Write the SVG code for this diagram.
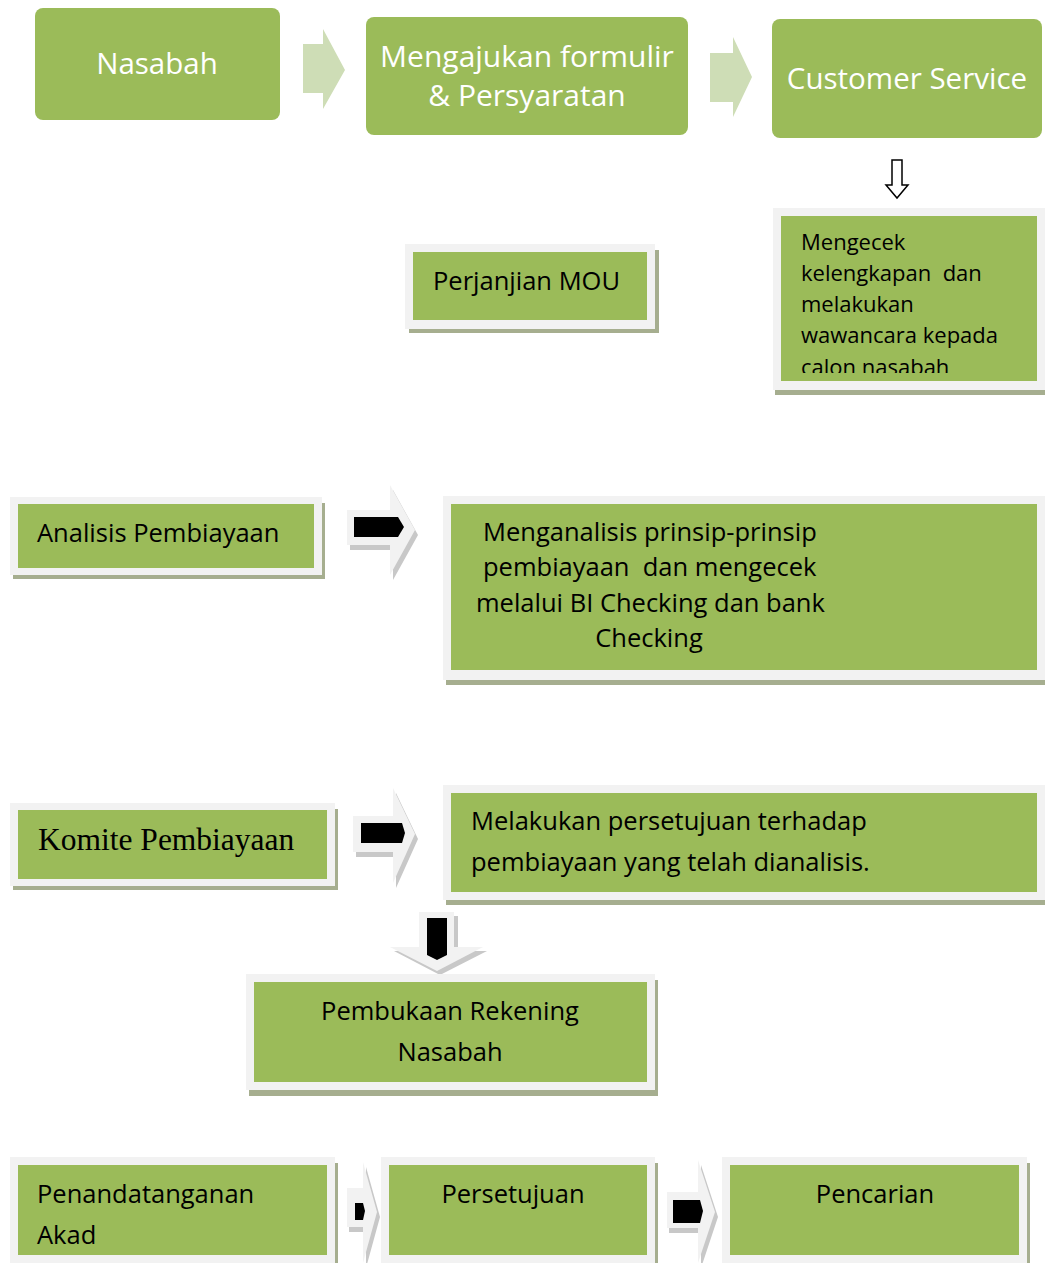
<svg xmlns="http://www.w3.org/2000/svg" width="1045" height="1263" viewBox="0 0 1045 1263">
<style>
.bg{fill:#ffffff}
.rnd{fill:#9BBB59}
.frame{fill:#F2F2F2}
.shadow{fill:#A6AE8F}
.inner{fill:#9BBB59}
.wt{font-family:"Open Sans","Liberation Sans",sans-serif;fill:#ffffff}
.bt{font-family:"Open Sans","Liberation Sans",sans-serif;fill:#000000}
.serif{font-family:"Liberation Serif",serif;fill:#000000}
.lg{fill:#CEDDB6}
.la{fill:#F2F2F2}
.ash{fill:#C8C8C8}
.blk{fill:#000000}
</style>
<defs>
<clipPath id="clipM"><rect x="781" y="216" width="256" height="157"/></clipPath>
</defs>
<rect class="bg" x="0" y="0" width="1045" height="1263"/>

<g id="connectors">
  <polygon class="lg" points="303,44 323,44 323,29 345,70 323,109 323,93 303,93"/>
  <polygon class="lg" points="710,53 733,53 733,37 752,77 733,117 733,102 710,102"/>
  <polygon points="892,160 902,160 902,185 908,185 897,198 886,185 892,185" fill="#ffffff" stroke="#000000" stroke-width="1.5"/>
  <g>
    <polygon class="ash" points="350,515 393,515 393,490 418,535 393,580 393,550 350,550"/>
    <polygon class="la" points="347,510 390,510 390,485 415,530 390,575 390,545 347,545"/>
    <polygon class="blk" points="354,517 398,517 404,527 398,537 354,537"/>
  </g>
  <g>
    <polygon class="ash" points="356,821 396,821 396,793 418,839 396,888 396,857 356,857"/>
    <polygon class="la" points="353,816 393,816 393,788 415,834 393,883 393,852 353,852"/>
    <polygon class="blk" points="361,823 402,823 405,833 402,843 361,843"/>
  </g>
  <g>
    <polygon class="ash" points="423,916 458,916 458,951 487,951 440,975 394,951 423,951"/>
    <polygon class="la" points="419,912 454,912 454,947 483,947 437,971 390,947 419,947"/>
    <polygon class="blk" points="427,918 447,918 447,955 437,960 427,955"/>
  </g>
  <g>
    <polygon class="ash" points="349,1193 366,1193 366,1167 380,1217 366,1268 366,1232 349,1232"/>
    <polygon class="la" points="347,1188 363,1188 363,1162 377,1212 363,1263 363,1227 347,1227"/>
    <polygon class="blk" points="355,1203 363,1203 365,1211 363,1220 355,1220"/>
  </g>
  <g>
    <polygon class="ash" points="669,1197 701,1197 701,1165 718,1217 701,1268 701,1233 669,1233"/>
    <polygon class="la" points="667,1192 698,1192 698,1160 715,1212 698,1263 698,1228 667,1228"/>
    <polygon class="blk" points="673,1200 700,1200 703,1211 700,1223 673,1223"/>
  </g>
</g>

<g id="n-nasabah">
  <rect class="rnd" x="35" y="8" width="245" height="112" rx="8"/>
  <text class="wt" x="157" y="74" font-size="29.5" text-anchor="middle">Nasabah</text>
</g>
<g id="n-mengajukan">
  <rect class="rnd" x="366" y="17" width="322" height="118" rx="8"/>
  <text class="wt" x="527" y="67" font-size="30" text-anchor="middle">Mengajukan formulir</text>
  <text class="wt" x="527" y="106" font-size="30" text-anchor="middle">&amp; Persyaratan</text>
</g>
<g id="n-cs">
  <rect class="rnd" x="772" y="19" width="270" height="119" rx="8"/>
  <text class="wt" x="907" y="89" font-size="29.5" text-anchor="middle">Customer Service</text>
</g>

<g id="n-mengecek">
  <rect class="shadow" x="775" y="212" width="270" height="183"/>
  <rect class="frame" x="773" y="208" width="272" height="182"/>
  <rect class="inner" x="781" y="216" width="256" height="165"/>
  <g clip-path="url(#clipM)">
    <text class="bt" x="801" y="250" font-size="22">Mengecek</text>
    <text class="bt" x="801" y="281" font-size="22" xml:space="preserve">kelengkapan  dan</text>
    <text class="bt" x="801" y="312" font-size="22">melakukan</text>
    <text class="bt" x="801" y="343" font-size="22">wawancara kepada</text>
    <text class="bt" x="801" y="375" font-size="22">calon nasabah</text>
  </g>
</g>

<g id="n-mou">
  <rect class="shadow" x="409" y="250" width="250" height="83"/>
  <rect class="frame" x="405" y="244" width="250" height="85"/>
  <rect class="inner" x="413" y="252" width="234" height="68"/>
  <text class="bt" x="433" y="290" font-size="25.5">Perjanjian MOU</text>
</g>

<g id="n-analisis">
  <rect class="shadow" x="13" y="503" width="312" height="76"/>
  <rect class="frame" x="10" y="497" width="312" height="78"/>
  <rect class="inner" x="18" y="504" width="296" height="64"/>
  <text class="bt" x="37" y="542" font-size="25.5">Analisis Pembiayaan</text>
</g>

<g id="n-menganalisis">
  <rect class="shadow" x="446" y="502" width="599" height="183"/>
  <rect class="frame" x="443" y="496" width="602" height="184"/>
  <rect class="inner" x="451" y="504" width="586" height="166"/>
  <text class="bt" x="483" y="541" font-size="25.5">Menganalisis prinsip-prinsip</text>
  <text class="bt" x="483" y="576" font-size="25.5" xml:space="preserve">pembiayaan  dan mengecek</text>
  <text class="bt" x="476" y="612" font-size="25.5">melalui BI Checking dan bank</text>
  <text class="bt" x="649" y="647" font-size="25.5" text-anchor="middle">Checking</text>
</g>

<g id="n-komite">
  <rect class="shadow" x="13" y="809" width="325" height="81"/>
  <rect class="frame" x="10" y="803" width="325" height="83"/>
  <rect class="inner" x="18" y="810" width="309" height="69"/>
  <text class="serif" x="38" y="850" font-size="31.5">Komite Pembiayaan</text>
</g>

<g id="n-melakukan">
  <rect class="shadow" x="446" y="791" width="599" height="114"/>
  <rect class="frame" x="443" y="785" width="602" height="115"/>
  <rect class="inner" x="451" y="793" width="586" height="99"/>
  <text class="bt" x="471" y="830" font-size="25.5">Melakukan persetujuan terhadap</text>
  <text class="bt" x="471" y="871" font-size="25.5">pembiayaan yang telah dianalisis.</text>
</g>

<g id="n-pembukaan">
  <rect class="shadow" x="249" y="980" width="409" height="116"/>
  <rect class="frame" x="246" y="974" width="409" height="116"/>
  <rect class="inner" x="254" y="982" width="393" height="100"/>
  <text class="bt" x="450" y="1020" font-size="25.5" text-anchor="middle">Pembukaan Rekening</text>
  <text class="bt" x="450" y="1061" font-size="25.5" text-anchor="middle">Nasabah</text>
</g>

<g id="n-penandatanganan">
  <rect class="shadow" x="13" y="1163" width="325" height="110"/>
  <rect class="frame" x="10" y="1157" width="325" height="110"/>
  <rect class="inner" x="18" y="1165" width="309" height="90"/>
  <text class="bt" x="37" y="1203" font-size="25.5">Penandatanganan</text>
  <text class="bt" x="37" y="1244" font-size="25.5">Akad</text>
</g>

<g id="n-persetujuan">
  <rect class="shadow" x="384" y="1163" width="274" height="110"/>
  <rect class="frame" x="381" y="1157" width="274" height="110"/>
  <rect class="inner" x="389" y="1165" width="258" height="90"/>
  <text class="bt" x="513" y="1203" font-size="25.5" text-anchor="middle">Persetujuan</text>
</g>

<g id="n-pencarian">
  <rect class="shadow" x="725" y="1163" width="305" height="110"/>
  <rect class="frame" x="722" y="1157" width="305" height="110"/>
  <rect class="inner" x="730" y="1165" width="289" height="90"/>
  <text class="bt" x="875" y="1203" font-size="25.5" text-anchor="middle">Pencarian</text>
</g>
</svg>
